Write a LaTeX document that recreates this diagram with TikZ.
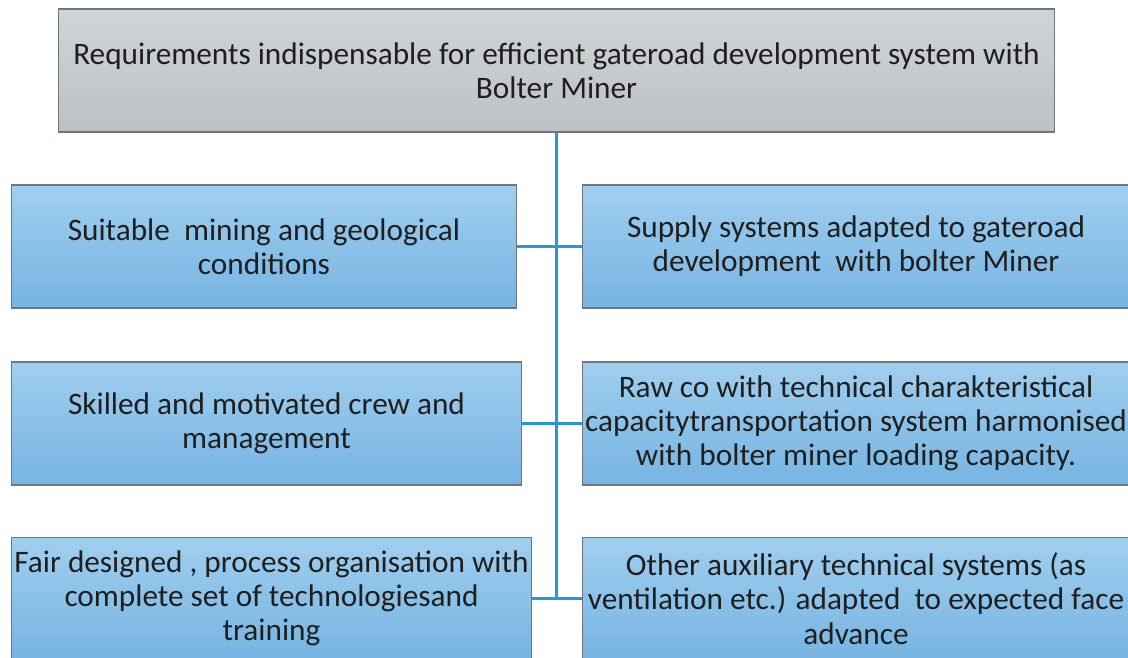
\documentclass[tikz,border=0pt]{standalone}
\usepackage{fontspec}
\setmainfont{Carlito}
\definecolor{boxtop}{RGB}{160,206,238}
\definecolor{boxbot}{RGB}{118,180,226}
\definecolor{greytop}{RGB}{207,212,215}
\definecolor{greybot}{RGB}{189,193,196}
\definecolor{rim}{RGB}{112,118,124}
\definecolor{wire}{RGB}{38,152,216}

\begin{document}
\begin{tikzpicture}[x=0.02cm,y=-0.02cm,
  every node/.style={font=\fontsize{17.8}{19.5}\selectfont,text=black!88,align=center,inner sep=0pt},
  head/.style={draw=rim,line width=0.6pt,top color=greytop,bottom color=greybot,
    minimum width=19.94cm,minimum height=2.46cm},
  item/.style={draw=rim,line width=0.6pt,top color=boxtop,bottom color=boxbot,minimum height=2.46cm},
  link/.style={wire,line width=2pt}]
\useasboundingbox (0,0) rectangle (1128,657);
\clip (0,0) rectangle (1128,657);
% heading
\node[head] (req) at (556.5,70.5) {Requirements indispensable for efficient gateroad development system with\\Bolter Miner};
% left column
\node[item,minimum width=10.12cm] (geo) at (264,246.5) {Suitable\ \ mining and geological\\conditions};
\node[item,minimum width=10.22cm] (crew) at (266.5,423.5) {Skilled and motivated crew and\\management};
\node[item,minimum width=10.42cm] (organ) at (271.5,598.5) {Fair designed , process organisation with\\complete set of technologiesand\\training};
% right column
\node[item,minimum width=10.96cm] (supply) at (856,246.5) {Supply systems adapted to gateroad\\development\ \ with bolter Miner};
\node[item,minimum width=10.96cm] (rawco) at (856,423.5) {Raw co with technical charakteristical\\capacitytransportation system harmonised\\with bolter miner loading capacity.};
\node[item,minimum width=10.96cm] (aux) at (856,598.5) {Other auxiliary technical systems (as\\ventilation etc.) adapted\ \ to expected face\\advance};
% connectors
\draw[link] (req.south) -- (req.south |- organ.east);
\draw[link] (geo.east) -- (supply.west);
\draw[link] (crew.east) -- (rawco.west);
\draw[link] (organ.east) -- (aux.west);
\end{tikzpicture}
\end{document}
